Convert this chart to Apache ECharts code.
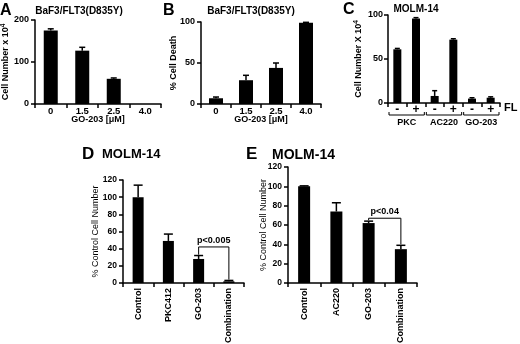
<!DOCTYPE html>
<html>
<head>
<meta charset="utf-8">
<script src="https://cdn.jsdelivr.net/npm/echarts@6/dist/echarts.min.js"></script>
<style>html,body{margin:0;background:#fff}#fig{width:520px;height:344px}</style>
</head>
<body>
<div id="fig"></div>
<script>
// A / B: BaF3/FLT3(D835Y) vs GO-203 dose
const doses = ['0', '1.5', '2.5', '4.0'];
const cellNumA = [175, 127, 60, 0];
const cellNumAErr = [4, 8, 2, 0];
const deathB = [7, 29, 44, 99];
const deathBErr = [1.5, 6, 6, 0.6];
// C: MOLM-14 with / without FL
const flCats = ['-', '+', '-', '+', '-', '+'];
const flGroups = [['PKC', 0, 1], ['AC220', 2, 3], ['GO-203', 4, 5]];
const cellNumC = [61, 96, 8, 72, 5, 6];
const cellNumCErr = [1, 1, 6, 1, 1, 1];
// D / E: % of control
const drugsD = ['Control', 'PKC412', 'GO-203', 'Combination'];
const ctrlD = [100, 49, 28, 2];
const ctrlDErr = [14, 8, 4, 1];
const drugsE = ['Control', 'AC220', 'GO-203', 'Combination'];
const ctrlE = [100, 74, 62, 35];
const ctrlEErr = [0.5, 9, 2, 4];
// significance: from, to, bracket level, left end, right end, text
const pD = [['GO-203', 'Combination', 42, 33, 4, 'p<0.005']];
const pE = [['GO-203', 'Combination', 67, 65, 40, 'p<0.04']];

const FONT = '"Liberation Sans", Arial, sans-serif';
const BLACK = '#000';

const chart = echarts.init(document.getElementById('fig'));

function grid(left, top, width, height) {
    return { left, top, width, height, containLabel: false, outerBoundsMode: 'none' };
}

function xAx(idx, cats, opt) {
    return Object.assign({
        gridIndex: idx,
        type: 'category',
        data: cats,
        axisLine: { lineStyle: { color: BLACK, width: 1.5 } },
        axisTick: { show: true, length: 4, lineStyle: { color: BLACK, width: 1.5 } },
        axisLabel: { margin: 2, fontSize: 9.5, fontWeight: 'bold', color: BLACK, fontFamily: FONT, interval: 0 },
        nameMoveOverlap: false
    }, opt);
}

function yAx(idx, max, interval, name, gap, opt) {
    return Object.assign({
        gridIndex: idx,
        type: 'value',
        min: 0, max, interval,
        splitLine: { show: false },
        axisLine: { show: true, lineStyle: { color: BLACK, width: 1.5 } },
        axisTick: { show: true, length: 4, lineStyle: { color: BLACK, width: 1.5 } },
        axisLabel: { margin: 6, fontSize: 9, fontWeight: 'bold', color: BLACK, fontFamily: FONT },
        name,
        nameLocation: 'middle',
        nameGap: gap,
        nameMoveOverlap: false,
        nameTextStyle: {
            fontSize: 9, fontWeight: 'bold', color: BLACK, fontFamily: FONT,
            rich: { sup: { fontSize: 6.5, fontWeight: 'bold', color: BLACK, fontFamily: FONT, padding: [0, 0, 5, 0] } }
        }
    }, opt);
}

function bars(idx, vals, width) {
    return {
        type: 'bar', xAxisIndex: idx, yAxisIndex: idx, data: vals,
        barWidth: width, itemStyle: { color: BLACK }, silent: true, z: 2
    };
}

// error bars drawn upward with a cap
function errs(idx, vals, errVals, cap) {
    return {
        type: 'custom', xAxisIndex: idx, yAxisIndex: idx, silent: true, z: 3,
        data: vals.map((v, i) => [i, v, errVals[i]]),
        renderItem(params, api) {
            const i = api.value(0), v = api.value(1), e = api.value(2);
            if (!e) return;
            const lo = api.coord([i, v]);
            const hi = api.coord([i, v + e]);
            const st = { stroke: BLACK, lineWidth: 1.5 };
            return {
                type: 'group', children: [
                    { type: 'line', shape: { x1: lo[0], y1: lo[1], x2: hi[0], y2: hi[1] }, style: st },
                    { type: 'line', shape: { x1: hi[0] - cap / 2, y1: hi[1], x2: hi[0] + cap / 2, y2: hi[1] }, style: st }
                ]
            };
        }
    };
}

// group brackets under panel C axis
function groups(idx, list) {
    return {
        type: 'custom', xAxisIndex: idx, yAxisIndex: idx, silent: true, clip: false,
        data: list.map(g => [g[1], 0]),
        renderItem(params, api) {
            const g = list[params.dataIndex];
            const bw = api.size([1, 0])[0];
            const a = api.coord([g[1], 0]), b = api.coord([g[2], 0]);
            const x1 = a[0] - bw / 2 + 1, x2 = b[0] + bw / 2 - 1, y = a[1] + 12;
            return {
                type: 'group', children: [
                    { type: 'polyline', shape: { points: [[x1, y - 3], [x1, y], [x2, y], [x2, y - 3]] },
                      style: { stroke: BLACK, fill: null, lineWidth: 1 } },
                    { type: 'text', style: { text: g[0], x: (x1 + x2) / 2, y: y + 3, align: 'center', verticalAlign: 'top',
                      font: 'bold 9px ' + FONT, fill: BLACK } }
                ]
            };
        }
    };
}

// p-value brackets
function pBracket(idx, cats, list) {
    return {
        type: 'custom', xAxisIndex: idx, yAxisIndex: idx, silent: true, z: 4, clip: false,
        data: list.map(p => [cats.indexOf(p[0]), p[2]]),
        renderItem(params, api) {
            const p = list[params.dataIndex];
            const i1 = cats.indexOf(p[0]), i2 = cats.indexOf(p[1]);
            const a = api.coord([i1, p[3]]), t1 = api.coord([i1, p[2]]);
            const t2 = api.coord([i2, p[2]]), b = api.coord([i2, p[4]]);
            return {
                type: 'group', children: [
                    { type: 'polyline', shape: { points: [a, t1, t2, b] }, style: { stroke: BLACK, fill: null, lineWidth: 1 } },
                    { type: 'text', style: { text: p[5], x: (t1[0] + t2[0]) / 2, y: t1[1] - 2, align: 'center', verticalAlign: 'bottom',
                      font: 'bold 9px ' + FONT, fill: BLACK } }
                ]
            };
        }
    };
}

function label(text, x, y, size, align) {
    return {
        type: 'text', x, y, silent: true,
        style: { text, font: 'bold ' + size + 'px ' + FONT, fill: BLACK, align: align || 'left', verticalAlign: 'middle' }
    };
}

const rotLabel = { rotate: 90, margin: 5, fontSize: 9, fontWeight: 'bold', color: BLACK, fontFamily: FONT, interval: 0 };
const doseName = { fontSize: 9, fontWeight: 'bold', color: BLACK, fontFamily: FONT };

const option = {
    animation: false,
    backgroundColor: '#fff',
    grid: [
        grid(35, 20, 126, 84),
        grid(201, 22, 120, 82),
        grid(388, 15, 112, 88),
        grid(123, 180, 121, 103),
        grid(288, 167, 129, 116)
    ],
    xAxis: [
        xAx(0, doses, { name: 'GO-203 [μM]', nameLocation: 'middle', nameGap: 11, nameTextStyle: doseName }),
        xAx(1, doses, { name: 'GO-203 [μM]', nameLocation: 'middle', nameGap: 11, nameTextStyle: doseName }),
        xAx(2, flCats, { axisLabel: { margin: 1, fontSize: 12, fontWeight: 'bold', color: BLACK, fontFamily: FONT, interval: 0 } }),
        xAx(3, drugsD, { axisLabel: rotLabel }),
        xAx(4, drugsE, { axisLabel: rotLabel })
    ],
    yAxis: [
        yAx(0, 200, 100, 'Cell Number x 10{sup|4}', 23),
        yAx(1, 100, 50, '% Cell Death', 23),
        yAx(2, 100, 50, 'Cell Number X 10{sup|4}', 23, { axisLabel: { margin: 5, fontSize: 9, fontWeight: 'bold', color: BLACK, fontFamily: FONT } }),
        yAx(3, 120, 20, '% Control Cell Number', 23, {
            axisLabel: { margin: 6, fontSize: 8.5, fontWeight: 'bold', color: BLACK, fontFamily: FONT },
            nameTextStyle: { fontSize: 9, color: BLACK, fontFamily: FONT }
        }),
        yAx(4, 120, 20, '% Control Cell Number', 20, {
            axisLabel: { margin: 6, fontSize: 8.5, fontWeight: 'bold', color: BLACK, fontFamily: FONT },
            nameTextStyle: { fontSize: 9, color: BLACK, fontFamily: FONT }
        })
    ],
    series: [
        bars(0, cellNumA, 14), errs(0, cellNumA, cellNumAErr, 6),
        bars(1, deathB, 14), errs(1, deathB, deathBErr, 6),
        bars(2, cellNumC, 8), errs(2, cellNumC, cellNumCErr, 5), groups(2, flGroups),
        bars(3, ctrlD, 11), errs(3, ctrlD, ctrlDErr, 9), pBracket(3, drugsD, pD),
        bars(4, ctrlE, 12), errs(4, ctrlE, ctrlEErr, 9), pBracket(4, drugsE, pE)
    ],
    graphic: [
        label('A', 0, 11, 16),
        label('BaF3/FLT3(D835Y)', 79, 11, 10, 'center'),
        label('B', 163, 11, 16),
        label('BaF3/FLT3(D835Y)', 251, 11, 10, 'center'),
        label('C', 343, 10, 16),
        label('MOLM-14', 416, 9, 10, 'center'),
        label('FL', 504, 108, 11),
        label('D', 82, 154, 17),
        label('MOLM-14', 102, 154, 13),
        label('E', 246, 154, 17),
        label('MOLM-14', 272, 155, 14)
    ]
};

chart.setOption(option);
</script>
</body>
</html>
